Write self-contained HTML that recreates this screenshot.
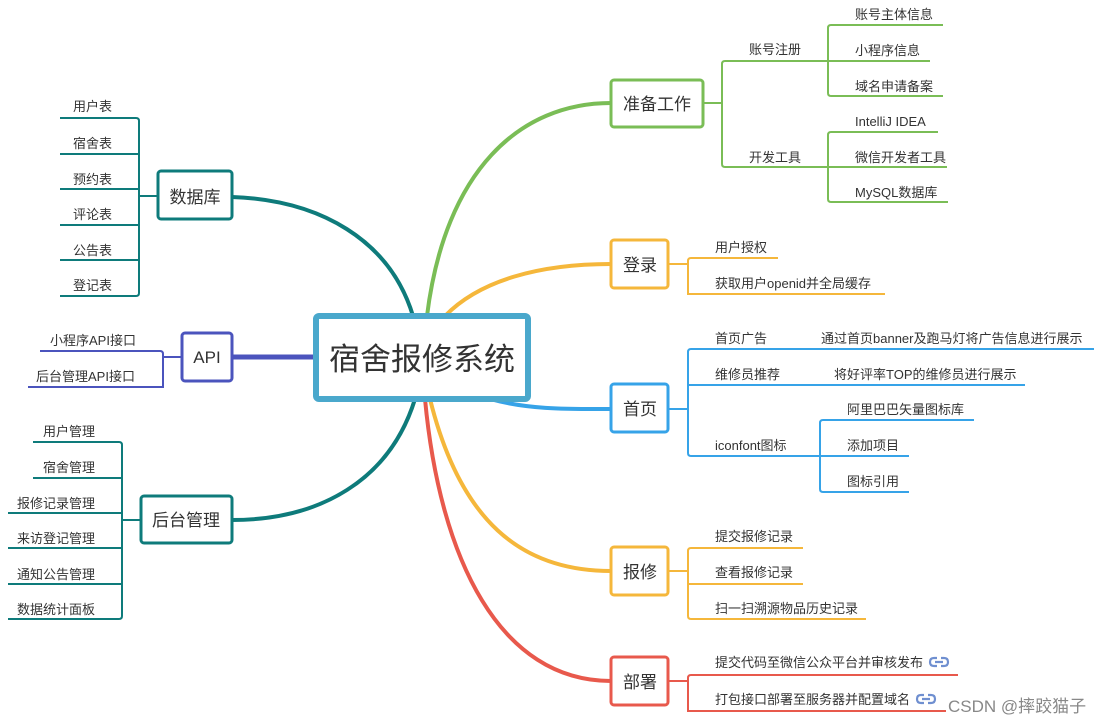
<!DOCTYPE html>
<html><head><meta charset="utf-8"><style>
html,body{margin:0;padding:0;background:#fff;}
svg{display:block;}
text{font-family:"Liberation Sans","Noto Sans CJK SC",sans-serif;fill:#333;}
.l{font-size:13px;}
.m{font-size:17px;text-anchor:middle;}
</style></head><body>
<svg width="1101" height="724" viewBox="0 0 1101 724" xmlns="http://www.w3.org/2000/svg">
<g fill="none" stroke-linecap="round">
<path d="M413,316 C390,240 320,200 232,197" stroke="#0e7b7b" stroke-width="4"/>
<path d="M427,316 C445,170 520,103 611,103" stroke="#7abd56" stroke-width="4"/>
<path d="M445,316 C480,280 540,264 611,264" stroke="#f5b73b" stroke-width="4"/>
<path d="M490,399 C530,410 570,409 611,409" stroke="#36a3e8" stroke-width="4"/>
<path d="M430,399 C460,520 520,571 611,571" stroke="#f5b73b" stroke-width="4"/>
<path d="M425,399 C440,560 500,681 611,681" stroke="#e8594c" stroke-width="4"/>
<path d="M415,399 C390,480 320,520 232,520" stroke="#0e7b7b" stroke-width="4"/>
<path d="M232,357 L316,357" stroke="#4b54bd" stroke-width="5"/>
</g>
<g fill="none" stroke-width="2">
<g stroke="#0e7b7b">
<path d="M139,196 H158"/>
<path d="M60,118 H136 Q139,118 139,121 V293 Q139,296 136,296 H60"/>
<path d="M60,154 H139 M60,189 H139 M60,225 H139 M60,260 H139"/>
</g>
<g stroke="#4b54bd">
<path d="M163,357 H182"/>
<path d="M40,351 H160 Q163,351 163,354 V387 H28"/>
</g>
<g stroke="#0e7b7b">
<path d="M122,520 H141"/>
<path d="M33,442 H119 Q122,442 122,445 V616 Q122,619 119,619 H8"/>
<path d="M33,478 H122 M8,513 H122 M8,548 H122 M8,584 H122"/>
</g>
<g stroke="#7abd56">
<path d="M703,103 H722"/>
<path d="M828,61 H725 Q722,61 722,64 V164 Q722,167 725,167 H828"/>
<path d="M943,25 H831 Q828,25 828,28 V93 Q828,96 831,96 H943 M828,61 H930"/>
<path d="M938,132 H831 Q828,132 828,135 V199 Q828,202 831,202 H948 M828,167 H947"/>
</g>
<g stroke="#f5b73b">
<path d="M668,264 H688"/>
<path d="M778,258 H691 Q688,258 688,261 V294 H885"/>
</g>
<g stroke="#36a3e8">
<path d="M668,409 H688"/>
<path d="M1094,349 H691 Q688,349 688,352 V453 Q688,456 691,456 H820"/>
<path d="M688,385 H1025"/>
<path d="M974,420 H823 Q820,420 820,423 V489 Q820,492 823,492 H909 M820,456 H909"/>
</g>
<g stroke="#f5b73b">
<path d="M668,571 H688"/>
<path d="M803,548 H691 Q688,548 688,551 V616 Q688,619 691,619 H866 M688,584 H803"/>
</g>
<g stroke="#e8594c">
<path d="M668,681 H688"/>
<path d="M958,675 H691 Q688,675 688,678 V711 H946"/>
</g>
</g>
<g fill="#fff" stroke-width="3">
<rect x="316" y="316" width="212" height="83" rx="3" stroke="#4aa8cc" stroke-width="6"/>
<rect x="158" y="171" width="74" height="48" rx="3" stroke="#0e7b7b"/>
<rect x="182" y="333" width="50" height="48" rx="3" stroke="#4b54bd"/>
<rect x="141" y="496" width="91" height="47" rx="3" stroke="#0e7b7b"/>
<rect x="611" y="80" width="92" height="47" rx="3" stroke="#7abd56"/>
<rect x="611" y="240" width="57" height="48" rx="3" stroke="#f5b73b"/>
<rect x="611" y="384" width="57" height="48" rx="3" stroke="#36a3e8"/>
<rect x="611" y="547" width="57" height="48" rx="3" stroke="#f5b73b"/>
<rect x="611" y="657" width="57" height="48" rx="3" stroke="#e8594c"/>
</g>
<text x="422" y="370" style="font-size:31px;text-anchor:middle">宿舍报修系统</text>
<text class="m" x="195" y="203">数据库</text>
<text class="m" x="207" y="363">API</text>
<text class="m" x="186" y="526">后台管理</text>
<text class="m" x="657" y="110">准备工作</text>
<text class="m" x="640" y="271">登录</text>
<text class="m" x="640" y="415">首页</text>
<text class="m" x="640" y="578">报修</text>
<text class="m" x="640" y="688">部署</text>
<g class="l">
<text class="l" x="73" y="111">用户表</text>
<text class="l" x="73" y="148">宿舍表</text>
<text class="l" x="73" y="184">预约表</text>
<text class="l" x="73" y="219">评论表</text>
<text class="l" x="73" y="255">公告表</text>
<text class="l" x="73" y="290">登记表</text>
<text class="l" x="50" y="345">小程序API接口</text>
<text class="l" x="36" y="381">后台管理API接口</text>
<text class="l" x="43" y="436">用户管理</text>
<text class="l" x="43" y="472">宿舍管理</text>
<text class="l" x="17" y="508">报修记录管理</text>
<text class="l" x="17" y="543">来访登记管理</text>
<text class="l" x="17" y="579">通知公告管理</text>
<text class="l" x="17" y="614">数据统计面板</text>
<text class="l" x="749" y="54">账号注册</text>
<text class="l" x="749" y="162">开发工具</text>
<text class="l" x="855" y="19">账号主体信息</text>
<text class="l" x="855" y="55">小程序信息</text>
<text class="l" x="855" y="91">域名申请备案</text>
<text class="l" x="855" y="126">IntelliJ IDEA</text>
<text class="l" x="855" y="162">微信开发者工具</text>
<text class="l" x="855" y="197">MySQL数据库</text>
<text class="l" x="715" y="252">用户授权</text>
<text class="l" x="715" y="288">获取用户openid并全局缓存</text>
<text class="l" x="715" y="343">首页广告</text>
<text class="l" x="821" y="343">通过首页banner及跑马灯将广告信息进行展示</text>
<text class="l" x="715" y="379">维修员推荐</text>
<text class="l" x="834" y="379">将好评率TOP的维修员进行展示</text>
<text class="l" x="715" y="450">iconfont图标</text>
<text class="l" x="847" y="414">阿里巴巴矢量图标库</text>
<text class="l" x="847" y="450">添加项目</text>
<text class="l" x="847" y="486">图标引用</text>
<text class="l" x="715" y="541">提交报修记录</text>
<text class="l" x="715" y="577">查看报修记录</text>
<text class="l" x="715" y="613">扫一扫溯源物品历史记录</text>
<text class="l" x="715" y="667">提交代码至微信公众平台并审核发布</text>
<text class="l" x="715" y="704">打包接口部署至服务器并配置域名</text>
</g>
<g fill="none" stroke="#6f8fd0" stroke-width="2.2">
<path d="M937,658 H934 Q930,658 930,662 Q930,666 934,666 H937 M941,658 H944 Q948,658 948,662 Q948,666 944,666 H941 M935,662 H943"/>
<path d="M924,695 H921 Q917,695 917,699 Q917,703 921,703 H924 M928,695 H931 Q935,695 935,699 Q935,703 931,703 H928 M922,699 H930"/>
</g>
<text x="948" y="712" style="font-size:17px;fill:#888">CSDN @摔跤猫子</text>
</svg>
</body></html>
